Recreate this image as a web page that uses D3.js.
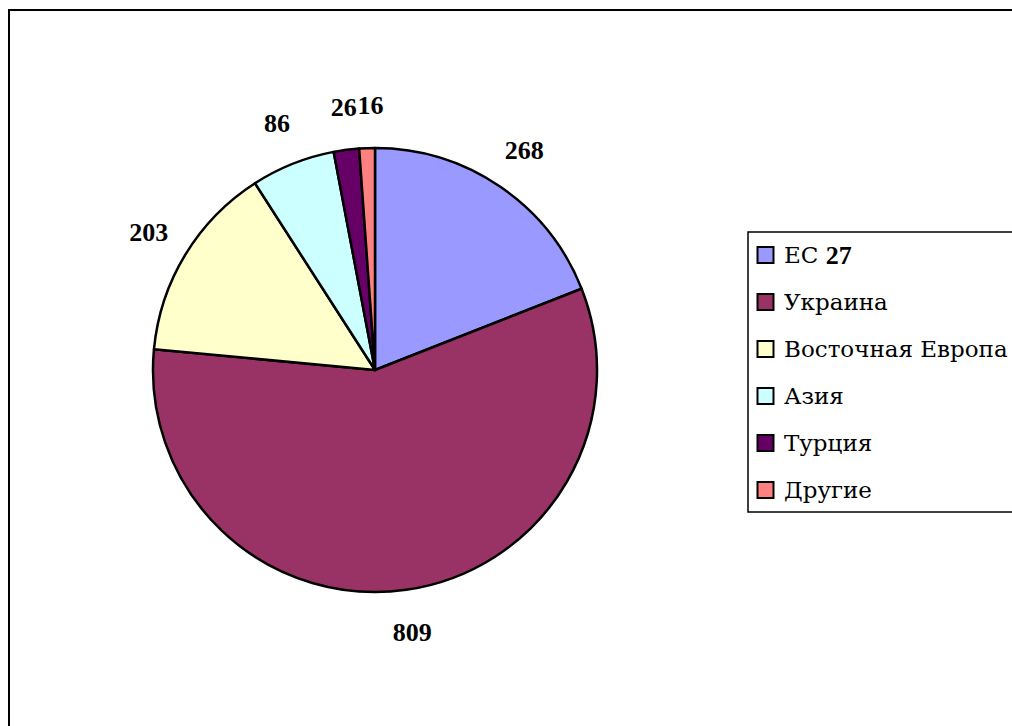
<!DOCTYPE html>
<html><head><meta charset="utf-8">
<script src="https://cdn.jsdelivr.net/npm/d3@7"></script>
<style>html,body{margin:0;padding:0;background:#fff;}svg{display:block;}
.lab{font-family:"Liberation Serif","Tinos","Times New Roman","DejaVu Serif";font-weight:bold;}
.leg{font-family:"DejaVu Serif";}
.legb{font-family:"Liberation Serif","DejaVu Serif";font-weight:bold;}
</style>
</head><body>
<svg id="c" width="1012" height="726"></svg>
<script>
const categories = ["ЕС 27", "Украина", "Восточная Европа", "Азия", "Турция", "Другие"];
const values = [268, 809, 203, 86, 26, 16];
const colors = ["#9999FF", "#993366", "#FFFFCC", "#CCFFFF", "#660066", "#FF8080"];

const svg = d3.select("#c");
svg.append("rect").attr("x", 9).attr("y", 10).attr("width", 1020).attr("height", 740)
  .attr("fill", "none").attr("stroke", "#000").attr("stroke-width", 2);

const cx = 375, cy = 370, r = 222;
const g = svg.append("g").attr("transform", `translate(${cx},${cy})`);
const pie = d3.pie().sort(null).value(d => d)(values);
const arc = d3.arc().innerRadius(0).outerRadius(r);
g.selectAll("path.s").data(pie).enter().append("path")
  .attr("d", arc).attr("fill", (d, i) => colors[i])
  .attr("stroke", "#000").attr("stroke-width", 2.5).attr("stroke-linejoin", "round");

const labelArc = d3.arc().innerRadius(265).outerRadius(265);
const nudge = [0, 0, 0, 0, 3, 5];
g.selectAll("text.l").data(pie).enter().append("text").attr("class", "lab")
  .attr("x", (d, i) => labelArc.centroid(d)[0] + nudge[i])
  .attr("y", d => labelArc.centroid(d)[1])
  .attr("text-anchor", "middle").attr("dominant-baseline", "central")
  .attr("font-size", 26).attr("fill", "#000").text(d => d.data);

const lg = svg.append("g");
lg.append("rect").attr("x", 748).attr("y", 232).attr("width", 300).attr("height", 280)
  .attr("fill", "#fff").attr("stroke", "#000").attr("stroke-width", 1.5);
const ly = d3.scalePoint().domain(categories).range([255, 490]);
categories.forEach((c, i) => {
  const y = ly(c);
  lg.append("rect").attr("x", 757.5).attr("y", y - 8).attr("width", 16).attr("height", 16)
    .attr("fill", colors[i]).attr("stroke", "#000").attr("stroke-width", 2);
  const t = lg.append("text").attr("class", "leg").attr("x", 784).attr("y", y).attr("dominant-baseline", "central")
    .attr("font-size", 23).attr("fill", "#000");
  if (c === "ЕС 27") {
    t.append("tspan").text("ЕС ");
    t.append("tspan").attr("class", "legb").attr("font-size", 26).text("27");
  } else t.text(c);
});
</script>
</body></html>
